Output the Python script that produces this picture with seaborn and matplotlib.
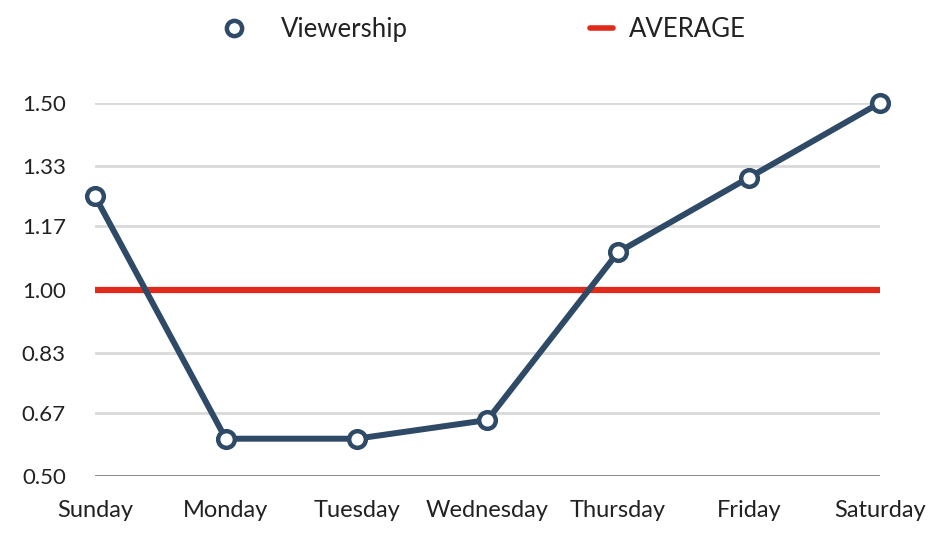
import matplotlib.pyplot as plt
import matplotlib.lines as mlines
import pandas as pd
import seaborn as sns

DAYS = ["Sunday", "Monday", "Tuesday", "Wednesday", "Thursday", "Friday", "Saturday"]
VIEWERSHIP = [1.25, 0.60, 0.60, 0.65, 1.10, 1.30, 1.50]
AVERAGE = 1.00
Y_TICKS = [0.50, 0.67, 0.83, 1.00, 1.17, 1.33, 1.50]

NAVY = "#2f4a66"
RED = "#e02a1b"
FONT = ["Lato", "DejaVu Sans"]

sns.set_theme(style="white")
plt.rcParams["font.family"] = FONT

df = pd.DataFrame({"day": DAYS, "value": VIEWERSHIP})

fig = plt.figure(figsize=(9.38, 5.48), dpi=100)
ax = fig.add_axes([0.1013, 0.1314, 0.8365, 0.6806])

for t in Y_TICKS[1:]:
    ax.axhline(t, color="#d9d9d9", lw=2.0, zorder=0)
ax.axhline(Y_TICKS[0], color="#7f7f7f", lw=2.0, zorder=1)
ax.axhline(AVERAGE, color=RED, lw=4.5, zorder=2, solid_capstyle="butt")

sns.lineplot(data=df, x="day", y="value", ax=ax, color=NAVY, lw=4.3,
             marker="o", markersize=12, markerfacecolor="white",
             markeredgecolor=NAVY, markeredgewidth=3.2, zorder=3,
             clip_on=False, sort=False)

ax.set_xlim(0, len(DAYS) - 1)
ax.set_ylim(Y_TICKS[0], Y_TICKS[-1])
ax.set_yticks(Y_TICKS)
ax.set_yticklabels([f"{t:.2f}" for t in Y_TICKS])
ax.set_xlabel("")
ax.set_ylabel("")
for s in ax.spines.values():
    s.set_visible(False)
ax.tick_params(axis="both", length=0, colors="#222222")
ax.tick_params(axis="y", pad=21, labelsize=16)
ax.tick_params(axis="x", pad=17, labelsize=17)

view_h = mlines.Line2D([], [], color=NAVY, marker="o", linestyle="None",
                       markersize=11, markerfacecolor="white",
                       markeredgecolor=NAVY, markeredgewidth=3.2,
                       label="Viewership")
avg_h = mlines.Line2D([], [], color=RED, lw=4, label="AVERAGE")
fig.legend(handles=[view_h], loc="center left",
           bbox_to_anchor=(0.2356, 0.946), frameon=False,
           fontsize=18.5, handlelength=1.0, handletextpad=1.35,
           borderpad=0, borderaxespad=0, labelcolor="#222222")
fig.legend(handles=[avg_h], loc="center left",
           bbox_to_anchor=(0.629, 0.946), frameon=False,
           fontsize=18.5, handlelength=0.9, handletextpad=0.6,
           borderpad=0, borderaxespad=0, labelcolor="#222222")

fig.savefig("out.png", dpi=100)
